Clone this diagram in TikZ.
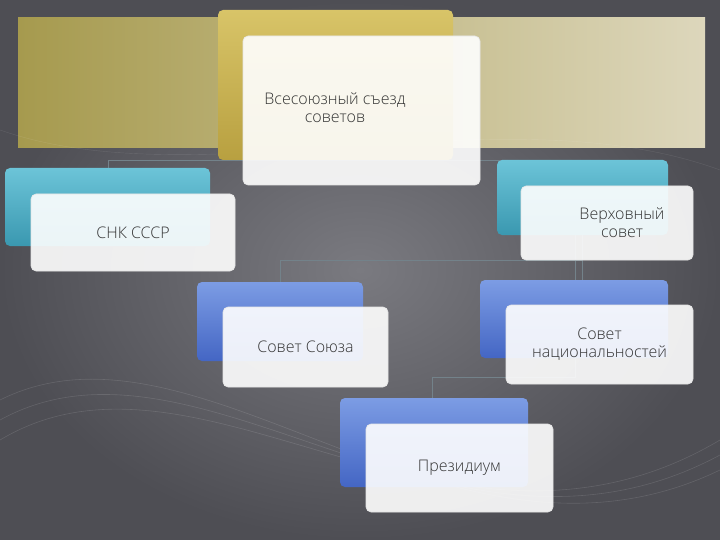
\documentclass[tikz,border=0pt]{standalone}
\usepackage{fontspec}
\setmainfont{Open Sans Light}
\definecolor{bgin}{HTML}{7A7A80}
\definecolor{bgout}{HTML}{4E4E54}
\definecolor{bandl}{HTML}{A69A4E}
\definecolor{bandr}{HTML}{DDD7BC}
\definecolor{goldt}{HTML}{D8C468}
\definecolor{goldb}{HTML}{B8A040}
\definecolor{tealt}{HTML}{6CC4D8}
\definecolor{tealb}{HTML}{3A98B0}
\definecolor{bluet}{HTML}{7C9CE4}
\definecolor{blueb}{HTML}{4466C4}
\begin{document}
\begin{tikzpicture}[x=1pt,y=-1pt,
 back/.style={rounded corners=5pt},
 front/.style={rounded corners=5pt,fill=white,fill opacity=0.9,draw=white!80!gray,line width=0.6pt,text opacity=1,align=center,text=black!80,font=\fontsize{16}{18}\selectfont},
 conn/.style={draw=black!55!cyan!40!gray,line width=0.7pt}]
\useasboundingbox (0,0) rectangle (720,540);
\shade[inner color=bgin,outer color=bgout] (0,0) rectangle (720,540);
\shade[left color=bandl, right color=bandr] (18,18) rectangle (705,148);
\foreach \a in {0,1,2}{\draw[white,opacity=0.12,line width=0.6pt] (0,400+20*\a) .. controls (200,300+10*\a) and (450,600) .. (720,470-15*\a);}
\draw[white,opacity=0.1] (0,130) .. controls (200,200) and (500,90) .. (720,170);
% connectors
\draw[conn] (108,168) coordinate (c1) -- (108,160) -- (582,160) -- (582,168) coordinate (c2);
\draw[conn] (575,235) coordinate (c3) -- (575,282) coordinate (c4);
\draw[conn] (582,235) -- (582,282);
\draw[conn] (280,282) coordinate (c5) -- (280,260) -- (582,260);
\draw[conn] (432,398) coordinate (c6) -- (432,377) -- (575,377) -- (575,358);
% boxes
\shade[back,top color=goldt,bottom color=goldb] (218,10) rectangle (453,160);
\node[front,minimum width=237pt,minimum height=149pt] (n1) at (361.5,110.5) {};
\node[text=black!80,align=center,font=\fontsize{16}{18}\selectfont] (t1) at (335,108) {Всесоюзный съезд\\советов};
\shade[back,top color=tealt,bottom color=tealb] (5,168) rectangle (210,246);
\node[front,minimum width=204pt,minimum height=77pt] (n2) at (133,232.5) {СНК СССР};
\shade[back,top color=tealt,bottom color=tealb] (497,160) rectangle (668,235);
\node[front,minimum width=172pt,minimum height=74pt] (n3) at (607,223) {};
\node[text=black!80,align=center,font=\fontsize{16}{18}\selectfont] (t3) at (622,223) {Верховный\\совет};
\shade[back,top color=bluet,bottom color=blueb] (197,282) rectangle (363,361);
\node[front,minimum width=165pt,minimum height=80pt] (n4) at (305.5,347) {Совет Союза};
\shade[back,top color=bluet,bottom color=blueb] (480,280) rectangle (668,358);
\node[front,minimum width=187pt,minimum height=79pt] (n5) at (599.5,344.5) {Совет\\национальностей};
\shade[back,top color=bluet,bottom color=blueb] (340,398) rectangle (528,487);
\node[front,minimum width=187pt,minimum height=88pt] (n6) at (459.5,468) {Президиум};
\end{tikzpicture}
\end{document}
